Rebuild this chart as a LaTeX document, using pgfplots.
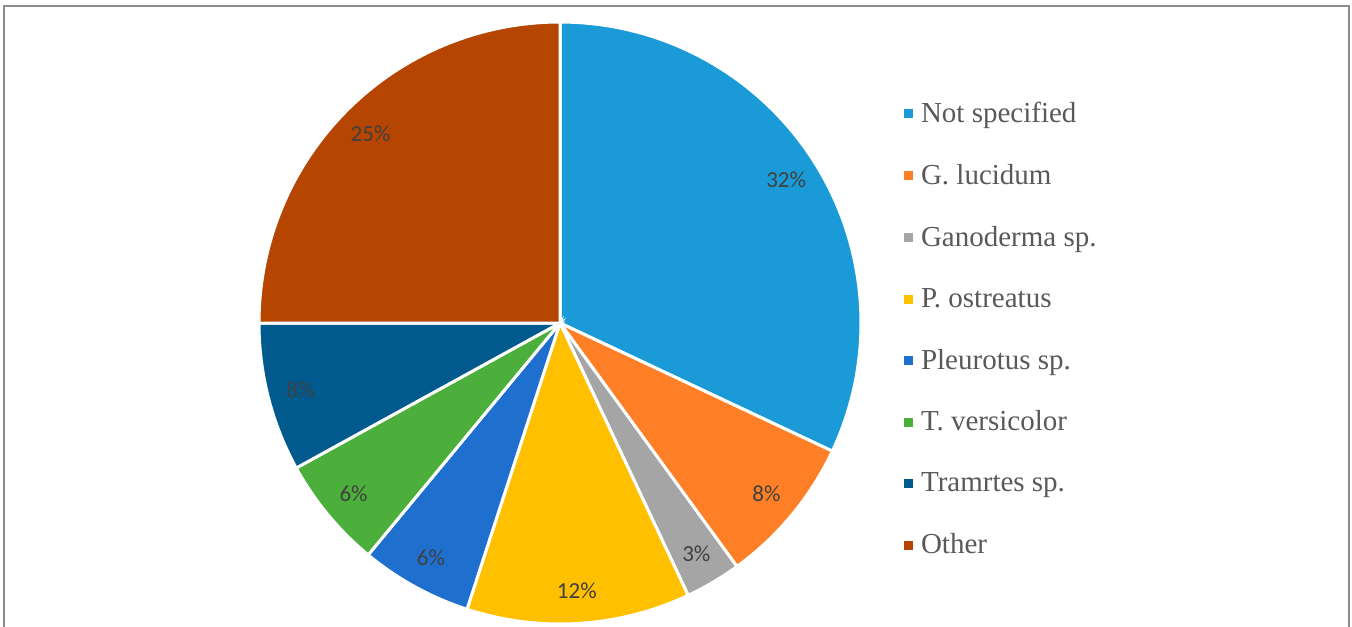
\documentclass[border=0pt]{standalone}
\usepackage{pgfplots}
\pgfplotsset{compat=1.18}
\usepgfplotslibrary{polar}
\usepackage{fontspec}
\setmainfont{Liberation Serif}
\newfontfamily\carlito{Carlito}

\definecolor{cNot}{HTML}{1A9BD7}
\definecolor{cGluc}{HTML}{FF7F27}
\definecolor{cGano}{HTML}{A5A5A5}
\definecolor{cPost}{HTML}{FFC000}
\definecolor{cPleu}{HTML}{1F6FCF}
\definecolor{cTver}{HTML}{4CAF3C}
\definecolor{cTram}{HTML}{005A8E}
\definecolor{cOther}{HTML}{B54500}
\definecolor{labelgray}{HTML}{404040}
\definecolor{legendgray}{HTML}{595959}

\newcommand{\pcttext}[1]{{\carlito\fontsize{11.5}{13}\selectfont #1\%}}
\newcommand{\legtext}[1]{{\rmfamily\fontsize{14.5}{17}\selectfont #1}}

% one slice: #1 colour, #2 percent, #3 legend text
\xdef\cum{0}
\newcommand{\slice}[3]{%
  \pgfmathsetmacro\aEnd{90-3.6*\cum}%
  \pgfmathsetmacro\aStart{90-3.6*(\cum+#2)}%
  \pgfmathsetmacro\aMid{90-3.6*(\cum+#2/2)}%
  \pgfmathsetmacro\newcum{\cum+#2}%
  \xdef\cum{\newcum}%
  \edef\doslice{\noexpand\addplot[fill=#1, draw=white, line width=1.5pt,
      domain=\aStart:\aEnd, samples=80] {1} -- (0,0) -- cycle;}%
  \doslice
  \addlegendentry{\legtext{#3}}
  \edef\donode{\noexpand\node[text=labelgray] at (axis cs:\aMid,0.89) {\noexpand\pcttext{#2}};}%
  \donode
}

\begin{document}
\begin{tikzpicture}
\useasboundingbox (0,0) rectangle (676pt,313pt);
\draw[gray!90, line width=1pt] (2pt,-2pt) -- (2pt,310pt) -- (674.5pt,310pt) -- (674.5pt,-2pt);
\begin{polaraxis}[
    at={(280pt,151.5pt)}, anchor=center,
    scale only axis, width=301pt, height=301pt,
    hide axis,
    xmin=0, xmax=360, ymin=0, ymax=1,
    clip=false,
    legend image code/.code={\fill[#1, draw=none] (0pt,-2.25pt) rectangle (4.5pt,2.25pt);
        \path (7pt,0pt);},
    legend cell align=left,
    legend style={draw=none, fill=none, at={(1.07,0.871)}, anchor=north west,
        text=legendgray, row sep=17.4pt, inner sep=0pt,
        nodes={inner sep=1pt}},
]
\slice{cNot}{32}{Not specified}
\slice{cGluc}{8}{G. lucidum}
\slice{cGano}{3}{Ganoderma sp.}
\slice{cPost}{12}{P. ostreatus}
\slice{cPleu}{6}{Pleurotus sp.}
\slice{cTver}{6}{T. versicolor}
\slice{cTram}{8}{Tramrtes sp.}
\slice{cOther}{25}{Other}
\end{polaraxis}
\end{tikzpicture}
\end{document}
